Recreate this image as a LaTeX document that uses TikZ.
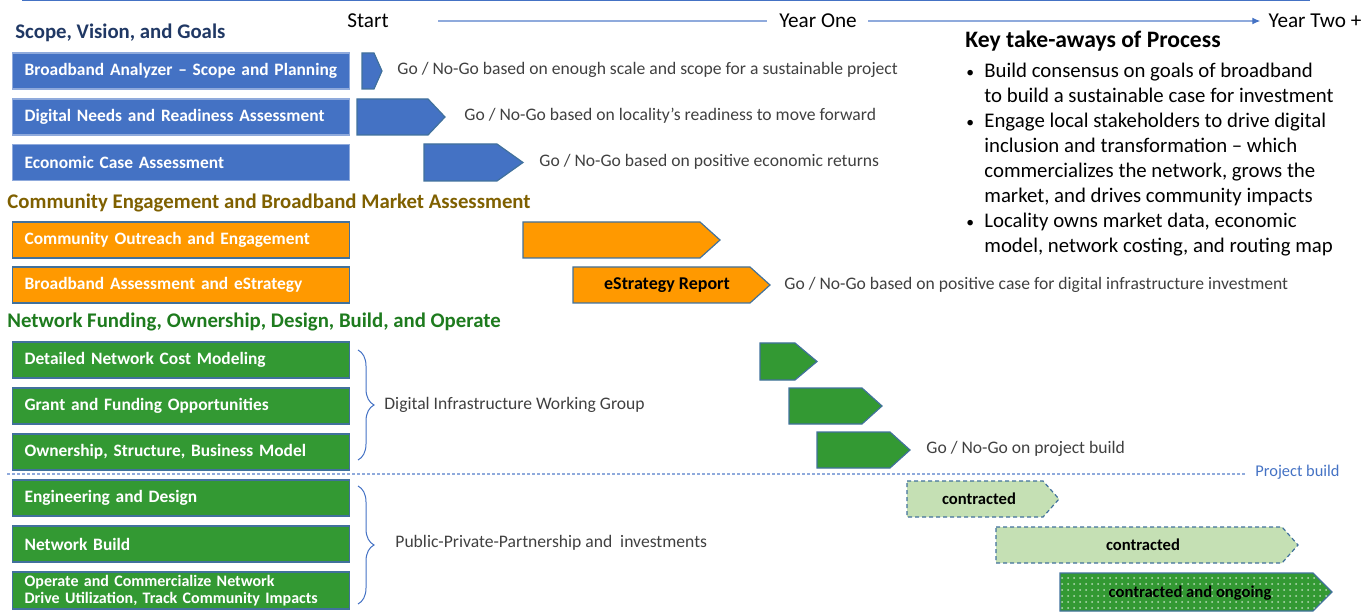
\documentclass[tikz,border=0pt]{standalone}
\usepackage{fontspec}
\setmainfont{Carlito}
\usetikzlibrary{arrows.meta,decorations.pathreplacing,patterns}

\definecolor{boxblue}{HTML}{4472C4}
\definecolor{edgeblue}{HTML}{41719C}
\definecolor{lineblue}{HTML}{8FAADC}
\definecolor{boxorange}{HTML}{FF9900}
\definecolor{boxgreen}{HTML}{339933}
\definecolor{lightgreen}{HTML}{C5E0B4}
\definecolor{headblue}{HTML}{203864}
\definecolor{headbrown}{HTML}{7F6000}
\definecolor{headgreen}{HTML}{1E7B1E}
\definecolor{textgrey}{HTML}{404040}

\tikzset{
	task/.style={anchor=west, draw=edgeblue, line width=0.6pt, text=white, font=\bfseries\fontsize{8.7}{9.6}\selectfont, minimum height=18pt, text width=156.5pt, inner xsep=6pt, inner ysep=1pt, align=left},
	bluetask/.style={task, fill=boxblue, draw=lineblue},
	orangetask/.style={task, fill=boxorange},
	greentask/.style={task, fill=boxgreen},
	gate/.style={draw=edgeblue, line width=0.6pt},
	bluegate/.style={gate, fill=boxblue},
	orangegate/.style={gate, fill=boxorange},
	greengate/.style={gate, fill=boxgreen},
	contract/.style={gate, fill=lightgreen, dash pattern=on 2pt off 1.5pt},
	ongoing/.style={gate, fill=boxgreen, postaction={pattern=dots, pattern color=white!65!boxgreen}},
	gatelabel/.style={inner sep=0, font=\bfseries\fontsize{8.3}{9.4}\selectfont},
	note/.style={anchor=west, inner sep=0, text=textgrey, font=\fontsize{8.8}{10}\selectfont},
	heading/.style={anchor=west, inner sep=0, font=\bfseries\fontsize{10.4}{12}\selectfont},
	year/.style={inner sep=0, font=\fontsize{10.6}{12}\selectfont},
	timeline/.style={draw=lineblue, line width=0.6pt},
	bracket/.style={draw=boxblue, line width=0.5pt, decorate, decoration={brace, amplitude=8pt}}
}

\begin{document}
\begin{tikzpicture}[x=0.5pt, y=-0.5pt]
	\useasboundingbox (0,0) rectangle (1369,614);

	\draw[boxblue, line width=0.8pt] (22,0.5) -- (1310,0.5);

	\node[year] (start) at (368,21) {Start};
	\node[year] (yone) at (818,21) {Year One};
	\node[year] (ytwo) at (1315,21) {Year Two +};
	\draw[timeline, shorten <=24.5pt, shorten >=6pt] (start) -- (yone);
	\draw[timeline, -{Latex[length=4pt, width=3.5pt, color=boxblue]}, shorten <=5.5pt, shorten >=4pt] (yone) -- (ytwo);

	\node[heading, text=headblue] (h1) at (15,33) {Scope, Vision, and Goals};
	\node[bluetask] (bba) at (12,71) {Broadband Analyzer – Scope and Planning};
	\node[bluetask] (dnr) at (12,117) {Digital Needs and Readiness Assessment};
	\node[bluetask] (eca) at (12,162.5) {Economic Case Assessment};

	\draw[bluegate] (362,53) -- (374,53) -- (382,71) -- (374,89) -- (362,89) -- cycle;
	\draw[bluegate] (357,99) -- (428,99) -- (445,117) -- (428,135) -- (357,135) -- cycle;
	\draw[bluegate] (424,144) -- (497,144) -- (523,162.5) -- (497,181) -- (424,181) -- cycle;

	\node[note] (g1) at (397,70) {Go / No-Go based on enough scale and scope for a sustainable project};
	\node[note] (g2) at (464,116) {Go / No-Go based on locality’s readiness to move forward};
	\node[note] (g3) at (539,162) {Go / No-Go based on positive economic returns};

	\node[heading, text=headbrown] (h2) at (7,203) {Community Engagement and Broadband Market Assessment};
	\node[orangetask] (coe) at (12,240) {Community Outreach and Engagement};
	\node[orangetask] (bae) at (12,285) {Broadband Assessment and eStrategy};

	\draw[orangegate] (523,222) -- (700,222) -- (720,240) -- (700,258) -- (523,258) -- cycle;
	\draw[orangegate] (573,267) -- (750,267) -- (770,285) -- (750,303) -- (573,303) -- cycle;
	\node[gatelabel, font=\bfseries\fontsize{9}{10}\selectfont] (esr) at (667,285) {eStrategy Report};
	\node[note] (g4) at (784,285) {Go / No-Go based on positive case for digital infrastructure investment};

	\node[heading, text=headgreen] (h3) at (7,322) {Network Funding, Ownership, Design, Build, and Operate};
	\node[greentask] (dncm) at (12,360) {Detailed Network Cost Modeling};
	\node[greentask] (gfo) at (12,406) {Grant and Funding Opportunities};
	\node[greentask] (osbm) at (12,452) {Ownership, Structure, Business Model};
	\node[greentask] (ead) at (12,498) {Engineering and Design};
	\node[greentask] (nb) at (12,544) {Network Build};
	\node[greentask, minimum height=18.5pt, font=\bfseries\fontsize{8}{8.8}\selectfont] (ocn) at (12,590.5) {Operate and Commercialize Network\\Drive Utilization, Track Community Impacts};

	\coordinate (b1t) at (358,350);
	\coordinate (b1b) at (358,460);
	\coordinate (b2t) at (358,486);
	\coordinate (b2b) at (358,604);
	\draw[bracket] (b1t) -- (b1b);
	\draw[bracket] (b2t) -- (b2b);
	\node[note] (diwg) at (384,405) {Digital Infrastructure Working Group};
	\node[note] (ppp) at (395,543) {Public-Private-Partnership and~ investments};

	\draw[greengate] (760,343) -- (795,343) -- (817,361.5) -- (795,380) -- (760,380) -- cycle;
	\draw[greengate] (789,388) -- (862,388) -- (882,406) -- (862,424) -- (789,424) -- cycle;
	\draw[greengate] (817,432) -- (890,432) -- (910,450) -- (890,468) -- (817,468) -- cycle;
	\node[note] (g5) at (926,449) {Go / No-Go on project build};

	\coordinate (sep) at (7,474);
	\node[anchor=west, inner sep=0, text=boxblue, font=\fontsize{8.2}{10}\selectfont] (pbuild) at (1255,472) {Project build};
	\draw[lineblue, line width=0.6pt, dash pattern=on 1.5pt off 1pt, shorten >=5pt] (sep) -- (sep -| pbuild.west);

	\draw[contract] (907,481) -- (1043,481) -- (1059,499) -- (1043,517) -- (907,517) -- cycle;
	\draw[contract] (996,527) -- (1282,527) -- (1298,545) -- (1282,563) -- (996,563) -- cycle;
	\draw[ongoing] (1060,573) -- (1313,573) -- (1332,592) -- (1313,611) -- (1060,611) -- cycle;
	\node[gatelabel] (c1) at (979,499) {contracted};
	\node[gatelabel] (c2) at (1143,545) {contracted};
	\node[gatelabel] (c3) at (1190,593) {contracted and ongoing};

	\node[anchor=west, inner sep=0, font=\bfseries\fontsize{11.8}{14}\selectfont] (keyhead) at (965,41) {Key take-aways of Process};
	\node[anchor=base west, inner sep=0, font=\fontsize{10.4}{12.5}\selectfont] (keylist) at (966,78) {\begin{tabular}[t]{@{}l@{}l@{}}
		\makebox[9pt][l]{\scalebox{0.75}{\textbullet}} & Build consensus on goals of broadband\\
		& to build a sustainable case for investment\\
		\makebox[9pt][l]{\scalebox{0.75}{\textbullet}} & Engage local stakeholders to drive digital\\
		& inclusion and transformation – which\\
		& commercializes the network, grows the\\
		& market, and drives community impacts\\
		\makebox[9pt][l]{\scalebox{0.75}{\textbullet}} & Locality owns market data, economic\\
		& model, network costing, and routing map
	\end{tabular}};

\end{tikzpicture}
\end{document}
